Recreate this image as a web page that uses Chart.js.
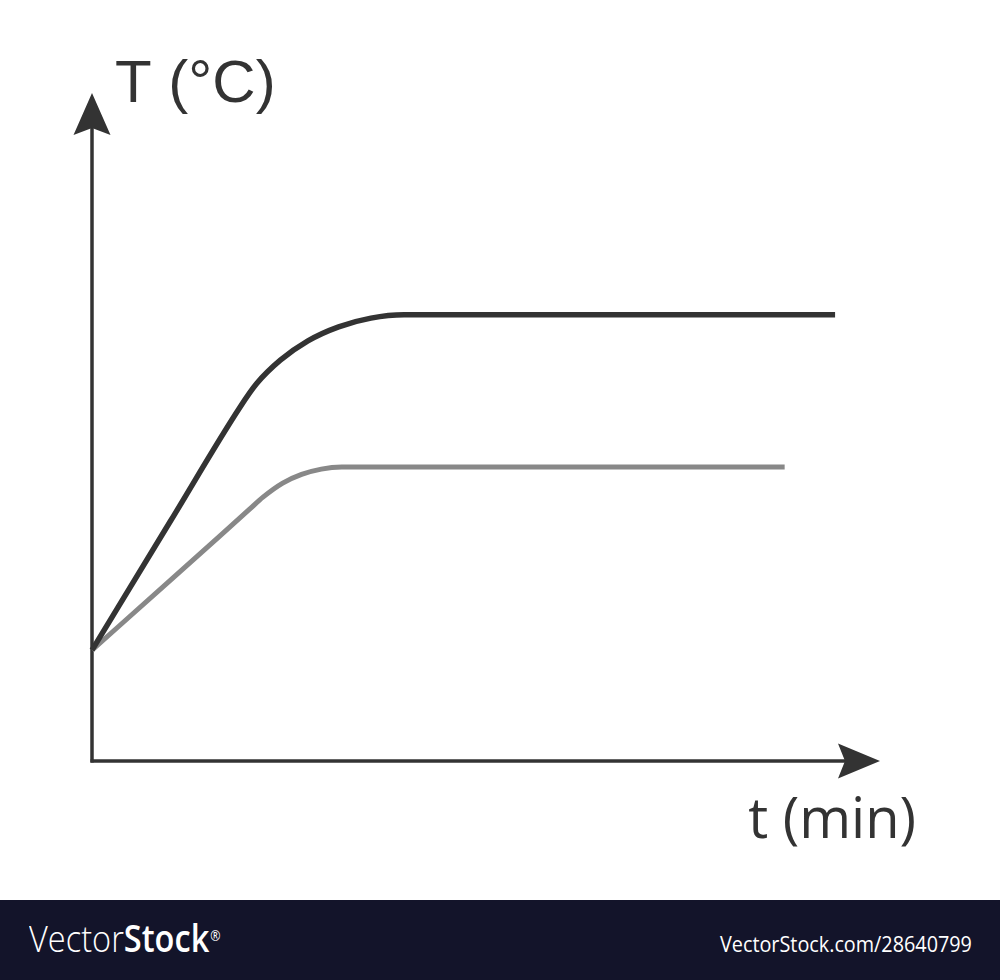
<!DOCTYPE html>
<html>
<head>
<meta charset="utf-8">
<title>T (°C) vs t (min)</title>
<script src="https://cdn.jsdelivr.net/npm/chart.js@4.4.1/dist/chart.umd.min.js"></script>
<style>
  html, body { margin: 0; padding: 0; background: #fff; width: 1000px; height: 980px; overflow: hidden; }
  #wrap { position: absolute; left: 0; top: 0; width: 1000px; height: 900px; }
  #footer { position: absolute; left: 0; top: 900px; width: 1000px; height: 80px; background: #13142a; color: #fff; font-family: "Open Sans", sans-serif; }
  #logo { position: absolute; left: 29px; top: 15px; font-size: 37px; line-height: 46px; white-space: nowrap; transform: scaleX(0.88); transform-origin: left top; }
  #logo .light { font-weight: 300; }
  #logo .bold { font-weight: 600; }
  #logo sup { font-size: 14px; vertical-align: top; position: relative; top: -2px; margin-left: 1px; }
  #ref { position: absolute; right: 28px; top: 29px; font-size: 22px; line-height: 28px; white-space: nowrap; transform: scaleX(0.9); transform-origin: right top; }
</style>
</head>
<body>
<div id="wrap"><canvas id="chart" width="1000" height="900"></canvas></div>
<div id="footer">
  <div id="logo"><span class="light">Vector</span><span class="bold">Stock</span><sup>®</sup></div>
  <div id="ref">VectorStock.com/28640799</div>
</div>
<script>
// axis ranges (arbitrary units, no ticks shown)
const xMax = 10
const yMax = 100

// upper (dark) curve
const timeDark = [0, 1.0, 1.88, 2.09, 2.39, 2.74, 3.13, 3.54, 3.96, 9.43]
const tempDark = [16.6, 36.0, 53.0, 56.5, 60.0, 62.9, 65.0, 66.3, 66.8, 66.8]

// lower (grey) curve
const timeGrey = [0, 1.0, 2.0, 2.17, 2.42, 2.66, 2.91, 3.17, 8.79]
const tempGrey = [16.6, 27.1, 37.7, 39.5, 41.6, 42.9, 43.7, 44.0, 44.0]

const xLabel = 't (min)'
const yLabel = 'T (°C)'

function toPoints(xs, ys) {
  return xs.map((v, i) => ({ x: v, y: ys[i] }))
}

const axisColor = '#333333'

const axesPlugin = {
  id: 'axesArrows',
  beforeDatasetsDraw(chart) {
    const ctx = chart.ctx
    const x = chart.scales.x
    const y = chart.scales.y
    const x0 = x.getPixelForValue(0)
    const y0 = y.getPixelForValue(0)
    const xEnd = x.getPixelForValue(xMax)
    const yEnd = y.getPixelForValue(yMax)

    ctx.save()
    ctx.strokeStyle = axisColor
    ctx.fillStyle = axisColor
    ctx.lineWidth = 3.5
    ctx.lineCap = 'butt'

    // y axis
    ctx.beginPath()
    ctx.moveTo(x0, y0 + 1.5)
    ctx.lineTo(x0, yEnd + 30)
    ctx.stroke()
    // x axis
    ctx.beginPath()
    ctx.moveTo(x0 - 1.5, y0)
    ctx.lineTo(xEnd - 30, y0)
    ctx.stroke()

    // y arrow head
    ctx.beginPath()
    ctx.moveTo(x0, yEnd)
    ctx.lineTo(x0 + 18.5, yEnd + 42)
    ctx.lineTo(x0, yEnd + 35)
    ctx.lineTo(x0 - 18.5, yEnd + 42)
    ctx.closePath()
    ctx.fill()

    // x arrow head
    ctx.beginPath()
    ctx.moveTo(xEnd, y0)
    ctx.lineTo(xEnd - 42, y0 - 17.5)
    ctx.lineTo(xEnd - 35, y0)
    ctx.lineTo(xEnd - 42, y0 + 17.5)
    ctx.closePath()
    ctx.fill()

    // axis titles
    ctx.textBaseline = 'alphabetic'
    ctx.textAlign = 'left'
    ctx.font = '60px "Liberation Sans", Arial, sans-serif'
    ctx.fillText(yLabel, x0 + 23, yEnd + 9)
    ctx.font = '56px "Open Sans", sans-serif'
    ctx.textAlign = 'right'
    ctx.fillText(xLabel, xEnd + 36, y0 + 77)
    ctx.restore()
  }
}

const chart = new Chart(document.getElementById('chart'), {
  type: 'line',
  data: {
    datasets: [
      {
        label: 'upper',
        data: toPoints(timeDark, tempDark),
        borderColor: '#333333',
        borderWidth: 5.5,
        pointRadius: 0,
        cubicInterpolationMode: 'monotone',
        borderCapStyle: 'butt',
        borderJoinStyle: 'round',
        clip: false
      },
      {
        label: 'lower',
        data: toPoints(timeGrey, tempGrey),
        borderColor: '#888888',
        borderWidth: 5,
        pointRadius: 0,
        cubicInterpolationMode: 'monotone',
        borderCapStyle: 'butt',
        borderJoinStyle: 'round',
        clip: false
      }
    ]
  },
  options: {
    responsive: false,
    animation: false,
    layout: { padding: { left: 92, right: 120, top: 93, bottom: 139 } },
    scales: {
      x: { type: 'linear', min: 0, max: xMax, display: false },
      y: { type: 'linear', min: 0, max: yMax, display: false }
    },
    plugins: {
      legend: { display: false },
      tooltip: { enabled: false }
    }
  },
  plugins: [axesPlugin]
})
</script>
</body>
</html>
